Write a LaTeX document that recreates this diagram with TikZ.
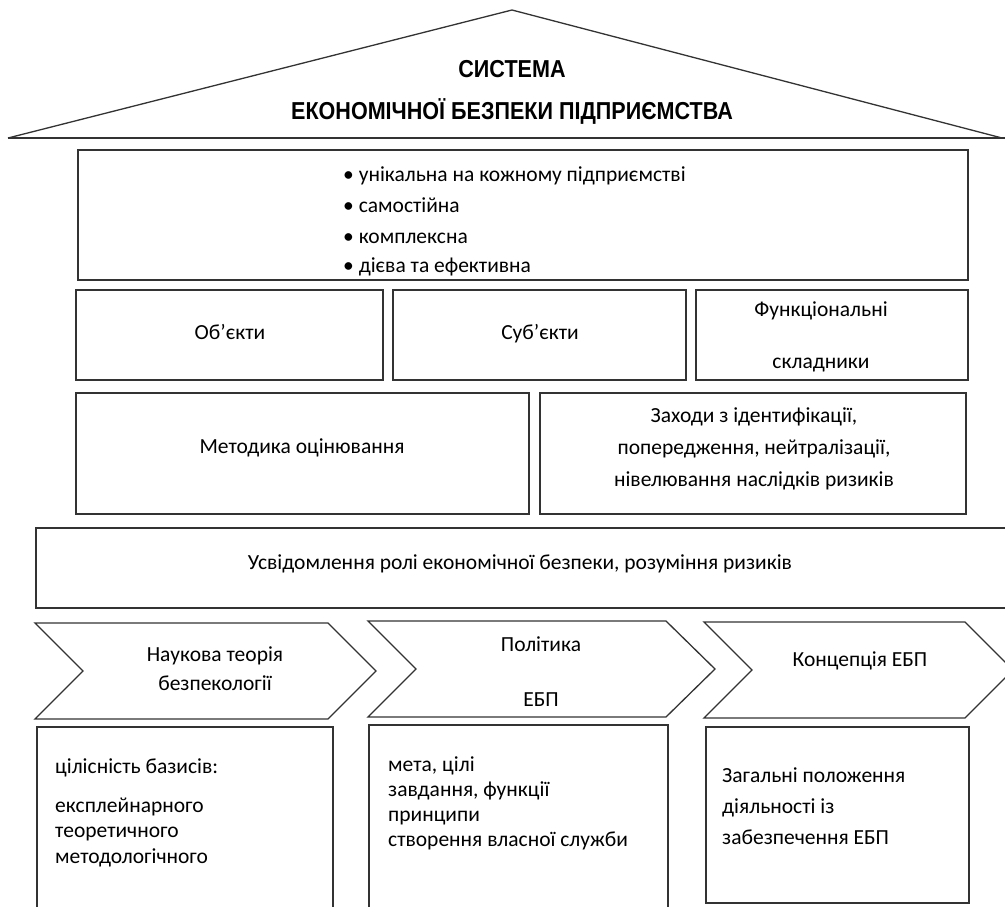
\documentclass[tikz,border=0pt]{standalone}
\usepackage{fontspec}
\setmainfont{Carlito}
\newfontfamily\titlefont[FakeStretch=0.88]{Liberation Sans}
\begin{document}
\begin{tikzpicture}[x=1pt,y=-1pt,
  line/.style={draw=black!80, line width=1.3pt},
  box/.style={line, anchor=north west, inner sep=0pt, outer sep=0pt},
  txt/.style={font=\fontsize{21.5}{24}\selectfont, inner sep=0pt, text height=0.7em, text depth=0.25em, yshift=-4pt},
  ltxt/.style={txt, anchor=west},
  ttl/.style={font=\titlefont\bfseries\fontsize{24.5}{28}\selectfont, inner sep=0pt}]
\useasboundingbox (0,0) rectangle (1005,906);
\fill[white] (0,0) rectangle (1005,906);
\begin{scope}
\clip (0,0) rectangle (1005,906);
% roof
\coordinate (apex) at (512,10);
\coordinate (rl) at (8,138);
\coordinate (rr) at (1002,138);
\coordinate (re) at (1005,138);
\draw[line, line join=miter] (rl) -- (apex) -- (rr);
\draw[line] (rl) -- (re);
\node[ttl] (t1) at (512,69) {СИСТЕМА};
\node[ttl] (t2) at (512,111) {ЕКОНОМІЧНОЇ БЕЗПЕКИ ПІДПРИЄМСТВА};
% properties box
\node[box, minimum width=890pt, minimum height=130pt] (props) at (78,150) {};
\node[ltxt] (p1) at (343,175) {\textbullet\ унікальна на кожному підприємстві};
\node[ltxt] (p2) at (343,206) {\textbullet\ самостійна};
\node[ltxt] (p3) at (343,237) {\textbullet\ комплексна};
\node[ltxt] (p4) at (343,266) {\textbullet\ дієва та ефективна};
% row 2
\node[box, minimum width=307pt, minimum height=90pt] (obj) at (76,290) {};
\node[box, minimum width=293pt, minimum height=90pt] (subj) at (393,290) {};
\node[box, minimum width=272pt, minimum height=90pt] (func) at (696,290) {};
\node[txt] (objt) at (230,333) {Об’єкти};
\node[txt] (subjt) at (540,333) {Суб’єкти};
\node[txt] (funct1) at (821,310) {Функціональні};
\node[txt] (funct2) at (821,362) {складники};
% row 3
\node[box, minimum width=453pt, minimum height=121pt] (meth) at (76,393) {};
\node[box, minimum width=426pt, minimum height=121pt] (meas) at (540,393) {};
\node[txt] (metht) at (302,447) {Методика оцінювання};
\node[txt] (meas1) at (754,416) {Заходи з ідентифікації,};
\node[txt] (meas2) at (754,448) {попередження, нейтралізації,};
\node[txt] (meas3) at (754,480) {нівелювання наслідків ризиків};
% row 4
\node[box, minimum width=1000pt, minimum height=80pt] (aware) at (36,528) {};
\node[txt] (awaret) at (520,563) {Усвідомлення ролі економічної безпеки, розуміння ризиків};
% chevrons
\draw[line, line join=miter] (35,623) -- (328,623) -- (376,671) -- (328,719) -- (35,719) -- (83,671) -- cycle;
\draw[line, line join=miter] (368,621) -- (666,621) -- (715,669) -- (666,717) -- (368,717) -- (416,669) -- cycle;
\draw[line, line join=miter] (704,622) -- (965,622) -- (1013,670) -- (965,718) -- (704,718) -- (752,670) -- cycle;
\node[txt] (c1a) at (215,655) {Наукова теорія};
\node[txt] (c1b) at (215,684) {безпекології};
\node[txt] (c2a) at (541,645) {Політика};
\node[txt] (c2b) at (541,700) {ЕБП};
\node[txt] (c3) at (860,660) {Концепція ЕБП};
% bottom boxes
\draw[line] (37,930) -- (37,727) -- (333,727) -- (333,930);
\draw[line] (369,930) -- (369,725) -- (668,725) -- (668,930);
\node[box, minimum width=263pt, minimum height=176pt] (b3) at (706,727) {};
\node[ltxt] (b1a) at (55,767) {цілісність базисів:};
\node[ltxt] (b1b) at (55,806) {експлейнарного};
\node[ltxt] (b1c) at (55,831) {теоретичного};
\node[ltxt] (b1d) at (55,857) {методологічного};
\node[ltxt] (b2a) at (388,765) {мета, цілі};
\node[ltxt] (b2b) at (388,790) {завдання, функції};
\node[ltxt] (b2c) at (388,815) {принципи};
\node[ltxt] (b2d) at (388,840) {створення власної служби};
\node[ltxt] (b3a) at (722,776) {Загальні положення};
\node[ltxt] (b3b) at (722,807) {діяльності із};
\node[ltxt] (b3c) at (722,838) {забезпечення ЕБП};
\end{scope}
\end{tikzpicture}
\end{document}
